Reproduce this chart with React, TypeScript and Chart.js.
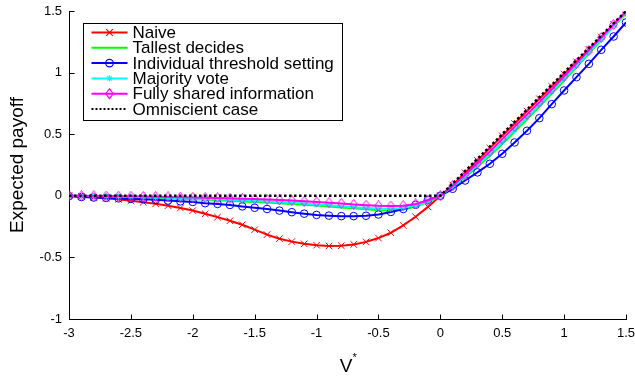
import React, { useEffect, useRef } from "react";
import { Chart, registerables } from "chart.js";

Chart.register(...registerables);

const FONT = '"Liberation Sans", Arial, Helvetica, sans-serif';

// V* values (x axis)
const vStar = [
  -3, -2.9, -2.8, -2.7, -2.6, -2.5, -2.4, -2.3, -2.2, -2.1, -2, -1.9, -1.8, -1.7, -1.6, -1.5,
  -1.4, -1.3, -1.2, -1.1, -1, -0.9, -0.8, -0.7, -0.6, -0.5, -0.4, -0.3, -0.2, -0.1, 0,
  0.1, 0.2, 0.3, 0.4, 0.5, 0.6, 0.7, 0.8, 0.9, 1, 1.1, 1.2, 1.3, 1.4, 1.5,
];

const naive = [
  0, -0.005, -0.012, -0.02, -0.029, -0.04, -0.052, -0.065, -0.08, -0.099, -0.12, -0.146, -0.173, -0.203, -0.235, -0.275,
  -0.315, -0.348, -0.372, -0.39, -0.401, -0.407, -0.405, -0.395, -0.374, -0.343, -0.3, -0.24, -0.17, -0.09, 0,
  0.088, 0.187, 0.287, 0.387, 0.487, 0.587, 0.688, 0.788, 0.888, 0.988, 1.088, 1.189, 1.29, 1.392, 1.495,
];

const tallestDecides = [
  0, -0.001, -0.002, -0.004, -0.006, -0.009, -0.012, -0.015, -0.019, -0.023, -0.027, -0.031, -0.036, -0.041, -0.046, -0.05,
  -0.055, -0.06, -0.066, -0.072, -0.079, -0.086, -0.094, -0.102, -0.11, -0.117, -0.12, -0.112, -0.088, -0.05, 0,
  0.07, 0.15, 0.235, 0.325, 0.42, 0.52, 0.62, 0.725, 0.83, 0.935, 1.045, 1.155, 1.265, 1.375, 1.48,
];

const individualThreshold = [
  -0.003, -0.01, -0.014, -0.017, -0.021, -0.025, -0.028, -0.033, -0.039, -0.045, -0.05, -0.06, -0.066, -0.074, -0.086, -0.097,
  -0.107, -0.12, -0.133, -0.145, -0.155, -0.161, -0.165, -0.165, -0.162, -0.152, -0.131, -0.107, -0.073, -0.033, 0,
  0.057, 0.124, 0.19, 0.26, 0.341, 0.433, 0.528, 0.63, 0.744, 0.855, 0.963, 1.071, 1.185, 1.293, 1.407,
];

const majorityVote = [
  0, -0.001, -0.002, -0.003, -0.005, -0.007, -0.009, -0.012, -0.015, -0.018, -0.021, -0.025, -0.029, -0.033, -0.037, -0.041,
  -0.046, -0.051, -0.057, -0.063, -0.07, -0.077, -0.084, -0.092, -0.099, -0.104, -0.105, -0.098, -0.08, -0.045, 0,
  0.075, 0.16, 0.25, 0.34, 0.435, 0.535, 0.635, 0.74, 0.845, 0.95, 1.055, 1.165, 1.27, 1.38, 1.485,
];

const fullyShared = [
  0, 0, -0.001, -0.002, -0.003, -0.004, -0.005, -0.007, -0.009, -0.011, -0.013, -0.015, -0.017, -0.02, -0.023, -0.026,
  -0.03, -0.034, -0.039, -0.044, -0.05, -0.056, -0.063, -0.07, -0.076, -0.081, -0.083, -0.08, -0.066, -0.038, 0,
  0.08, 0.17, 0.265, 0.36, 0.46, 0.56, 0.66, 0.76, 0.865, 0.97, 1.075, 1.18, 1.285, 1.39, 1.495,
];

const omniscient = [
  0, 0, 0, 0, 0, 0, 0, 0, 0, 0, 0, 0, 0, 0, 0, 0,
  0, 0, 0, 0, 0, 0, 0, 0, 0, 0, 0, 0, 0, 0, 0,
  0.1, 0.2, 0.3, 0.4, 0.5, 0.6, 0.7, 0.8, 0.9, 1, 1.1, 1.2, 1.3, 1.4, 1.5,
];

const xTickValues = [-3, -2.5, -2, -1.5, -1, -0.5, 0, 0.5, 1, 1.5];
const yTickValues = [-1, -0.5, 0, 0.5, 1, 1.5];

const seriesNames = [
  "Naive",
  "Tallest decides",
  "Individual threshold setting",
  "Majority vote",
  "Fully shared information",
  "Omniscient case",
];

const toPts = (ys: number[]) => ys.map((y, i) => ({ x: vStar[i], y }));

type LegendItem = {
  label: string;
  color: string;
  dash: number[];
  marker: string | null;
};

const legendItems: LegendItem[] = [
  { label: seriesNames[0], color: "#ff0000", dash: [], marker: "x" },
  { label: seriesNames[1], color: "#00ff00", dash: [], marker: null },
  { label: seriesNames[2], color: "#0000ff", dash: [], marker: "o" },
  { label: seriesNames[3], color: "#00ffff", dash: [], marker: "*" },
  { label: seriesNames[4], color: "#ff00ff", dash: [], marker: "d" },
  { label: seriesNames[5], color: "#000000", dash: [2, 2], marker: null },
];

function drawMarker(ctx: CanvasRenderingContext2D, m: string, x: number, y: number) {
  ctx.beginPath();
  if (m === "x") {
    const r = 3.3;
    ctx.moveTo(x - r, y - r);
    ctx.lineTo(x + r, y + r);
    ctx.moveTo(x - r, y + r);
    ctx.lineTo(x + r, y - r);
  } else if (m === "o") {
    ctx.arc(x, y, 3.8, 0, Math.PI * 2);
  } else if (m === "*") {
    const r = 3.2;
    ctx.moveTo(x - r, y);
    ctx.lineTo(x + r, y);
    ctx.moveTo(x, y - r);
    ctx.lineTo(x, y + r);
    ctx.moveTo(x - r * 0.7, y - r * 0.7);
    ctx.lineTo(x + r * 0.7, y + r * 0.7);
    ctx.moveTo(x - r * 0.7, y + r * 0.7);
    ctx.lineTo(x + r * 0.7, y - r * 0.7);
  } else if (m === "d") {
    ctx.moveTo(x, y - 5);
    ctx.lineTo(x + 3.7, y);
    ctx.lineTo(x, y + 5);
    ctx.lineTo(x - 3.7, y);
    ctx.closePath();
  }
  ctx.stroke();
}

function makeDiamond(color: string): HTMLCanvasElement {
  const c = document.createElement("canvas");
  c.width = 9;
  c.height = 11;
  const g = c.getContext("2d");
  if (g) {
    g.strokeStyle = color;
    g.lineWidth = 1;
    g.beginPath();
    g.moveTo(4.5, 0.5);
    g.lineTo(8.3, 5.5);
    g.lineTo(4.5, 10.5);
    g.lineTo(0.7, 5.5);
    g.closePath();
    g.stroke();
  }
  return c;
}

const axesPlugin = {
  id: "matlabAxes",
  beforeDatasetsDraw(chart: any) {
    const { ctx, chartArea: a, scales } = chart;
    const x = scales.x;
    const y = scales.y;
    ctx.save();
    ctx.strokeStyle = "#000";
    ctx.lineWidth = 1;
    ctx.beginPath();
    const L = Math.round(a.left) + 0.5;
    const B = Math.round(a.bottom) + 0.5;
    ctx.moveTo(L, Math.round(a.top));
    ctx.lineTo(L, B);
    ctx.lineTo(Math.round(a.right) + 1, B);
    for (const v of xTickValues) {
      const px = Math.round(x.getPixelForValue(v)) + 0.5;
      ctx.moveTo(px, B);
      ctx.lineTo(px, B - 5);
    }
    for (const v of yTickValues) {
      const py = Math.round(y.getPixelForValue(v)) + 0.5;
      ctx.moveTo(L, py);
      ctx.lineTo(L + 5, py);
    }
    ctx.stroke();
    ctx.restore();
  },
  afterDraw(chart: any) {
    const { ctx, chartArea: a } = chart;
    ctx.save();
    // axis titles
    ctx.fillStyle = "#000";
    ctx.font = `19px ${FONT}`;
    ctx.textAlign = "center";
    ctx.textBaseline = "middle";
    ctx.save();
    ctx.translate(18, (a.top + a.bottom) / 2);
    ctx.rotate(-Math.PI / 2);
    ctx.fillText("Expected payoff", 0, 0);
    ctx.restore();
    const cx = (a.left + a.right) / 2;
    ctx.font = `19px ${FONT}`;
    ctx.textAlign = "center";
    ctx.textBaseline = "alphabetic";
    ctx.fillText("V", cx - 1.5, 372);
    ctx.font = `11px ${FONT}`;
    ctx.textAlign = "left";
    ctx.fillText("*", cx + 5, 361);

    // legend
    const bx = a.left + 14.5;
    const by = a.top + 12.5;
    const bw = 259;
    const bh = 97;
    ctx.fillStyle = "#fff";
    ctx.fillRect(bx, by, bw, bh);
    ctx.strokeStyle = "#000";
    ctx.lineWidth = 1;
    ctx.strokeRect(bx, by, bw, bh);
    const rowH = 15.3;
    const y0 = by + 9;
    const lx0 = bx + 8;
    const lx1 = bx + 44;
    const mx = (lx0 + lx1) / 2;
    legendItems.forEach((it, i) => {
      const yy = y0 + i * rowH;
      ctx.save();
      ctx.strokeStyle = it.color;
      ctx.lineWidth = 2;
      ctx.setLineDash(it.dash);
      ctx.beginPath();
      ctx.moveTo(lx0, yy);
      ctx.lineTo(lx1, yy);
      ctx.stroke();
      ctx.setLineDash([]);
      if (it.marker) {
        ctx.lineWidth = 1.2;
        drawMarker(ctx, it.marker, mx, yy);
      }
      ctx.restore();
      ctx.fillStyle = "#000";
      ctx.font = `17px ${FONT}`;
      ctx.textAlign = "left";
      ctx.textBaseline = "middle";
      ctx.fillText(it.label, bx + 49, yy + 1);
    });
    ctx.restore();
  },
};

export default function App() {
  const ref = useRef<HTMLCanvasElement | null>(null);
  useEffect(() => {
    if (!ref.current) return;
    const hollow = "rgba(0,0,0,0)";
    const diamond = makeDiamond("#ff00ff");
    const chart = new Chart(ref.current, {
      type: "line",
      data: {
        datasets: [
          {
            label: seriesNames[0],
            data: toPts(naive),
            borderColor: "#ff0000",
            borderWidth: 2,
            pointStyle: "crossRot",
            pointRadius: 4.6,
            pointBorderWidth: 1,
            pointBorderColor: "#ff0000",
            pointBackgroundColor: hollow,
            tension: 0,
            order: 6,
          },
          {
            label: seriesNames[1],
            data: toPts(tallestDecides),
            borderColor: "#00ff00",
            borderWidth: 2,
            pointRadius: 0,
            tension: 0,
            order: 5,
          },
          {
            label: seriesNames[2],
            data: toPts(individualThreshold),
            borderColor: "#0000ff",
            borderWidth: 2,
            pointStyle: "circle",
            pointRadius: 3.8,
            pointBorderWidth: 1,
            pointBorderColor: "#0000ff",
            pointBackgroundColor: hollow,
            tension: 0,
            order: 4,
          },
          {
            label: seriesNames[3],
            data: toPts(majorityVote),
            borderColor: "#00ffff",
            borderWidth: 2,
            pointStyle: "star",
            pointRadius: 3,
            pointBorderWidth: 1,
            pointBorderColor: "#00ffff",
            pointBackgroundColor: hollow,
            tension: 0,
            order: 3,
          },
          {
            label: seriesNames[4],
            data: toPts(fullyShared),
            borderColor: "#ff00ff",
            borderWidth: 2,
            pointStyle: diamond,
            pointRadius: 5,
            tension: 0,
            order: 2,
          },
          {
            label: seriesNames[5],
            data: toPts(omniscient),
            borderColor: "#000000",
            borderWidth: 2.5,
            borderDash: [2.5, 2.5],
            pointRadius: 0,
            tension: 0,
            order: 1,
          },
        ],
      },
      options: {
        responsive: false,
        animation: false,
        events: [],
        layout: { padding: { left: 0, right: 9, top: 11, bottom: 0 } },
        plugins: {
          legend: { display: false },
          tooltip: { enabled: false },
          title: { display: false },
        },
        scales: {
          x: {
            type: "linear",
            min: -3,
            max: 1.5,
            grid: { display: false, drawTicks: false, tickLength: 0 },
            border: { display: false },
            afterBuildTicks: (s: any) => {
              s.ticks = xTickValues.map((v) => ({ value: v }));
            },
            afterFit: (s: any) => {
              s.height = 57;
              s.paddingLeft = 0;
              s.paddingRight = 0;
            },
            ticks: {
              color: "#000",
              font: { family: FONT, size: 13 },
              padding: 7,
              maxRotation: 0,
              autoSkip: false,
              callback: (v: any) => String(v),
            },
          },
          y: {
            type: "linear",
            min: -1,
            max: 1.5,
            grid: { display: false, drawTicks: false, tickLength: 0 },
            border: { display: false },
            afterBuildTicks: (s: any) => {
              s.ticks = yTickValues.map((v) => ({ value: v }));
            },
            afterFit: (s: any) => {
              s.width = 69;
              s.paddingTop = 0;
              s.paddingBottom = 0;
            },
            ticks: {
              color: "#000",
              font: { family: FONT, size: 13 },
              padding: 7,
              autoSkip: false,
              callback: (v: any) => String(v),
            },
          },
        },
      },
      plugins: [axesPlugin],
    } as any);
    return () => chart.destroy();
  }, []);
  return (
    <div style={{ position: "fixed", left: 0, top: 0, width: 635, height: 376, background: "#fff" }}>
      <canvas ref={ref} width={635} height={376} style={{ display: "block" }} />
    </div>
  );
}
